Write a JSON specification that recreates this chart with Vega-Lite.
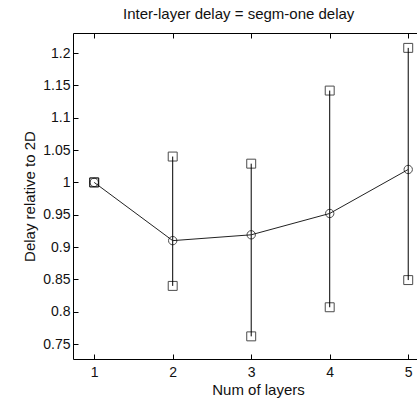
{
  "$schema": "https://vega.github.io/schema/vega-lite/v6.json",
  "autosize": "none",
  "padding": {"left": 73, "top": 33, "right": 0, "bottom": 41},
  "width": 370,
  "height": 326,
  "background": "white",
  "title": {"text": "Inter-layer delay = segm-one delay", "font": "Liberation Sans", "fontSize": 15, "fontWeight": "normal", "color": "#111", "offset": 11, "anchor": "start", "frame": "group", "dx": 50},
  "config": {
    "view": {"stroke": "#000", "strokeWidth": 1},
    "axis": {"grid": false, "domain": false, "tickColor": "#000", "tickSize": -5, "labelOverlap": false, "labelFont": "Liberation Sans", "labelFontSize": 14, "labelColor": "#111", "titleFont": "Liberation Sans", "titleFontSize": 15, "titleFontWeight": "normal", "titleColor": "#111"}
  },
  "resolve": {"axis": {"x": "independent"}},
  "data": {"values": [
    {"layers": 1, "mean": 1.0, "lo": 1.0, "hi": 1.0},
    {"layers": 2, "mean": 0.91, "lo": 0.84, "hi": 1.04},
    {"layers": 3, "mean": 0.919, "lo": 0.762, "hi": 1.029},
    {"layers": 4, "mean": 0.952, "lo": 0.807, "hi": 1.142},
    {"layers": 5, "mean": 1.02, "lo": 0.849, "hi": 1.208}
  ]},
  "layer": [
    {"mark": {"type": "rule", "color": "#000", "strokeWidth": 1},
     "encoding": {
       "x": {"field": "layers", "type": "quantitative", "scale": {"domain": [0.73, 5.443], "nice": false, "zero": false},
         "axis": {"title": "Num of layers", "values": [1, 2, 3, 4, 5], "labelPadding": 11, "titlePadding": 3, "labelOverlap": false}},
       "y": {"field": "lo", "type": "quantitative", "scale": {"domain": [0.727, 1.231], "nice": false, "zero": false},
         "axis": {"title": "Delay relative to 2D", "format": ".2~f", "values": [0.75, 0.8, 0.85, 0.9, 0.95, 1, 1.05, 1.1, 1.15, 1.2], "labelPadding": 8, "titlePadding": 5, "labelOverlap": false}},
       "y2": {"field": "hi"}
     }},
    {"mark": {"type": "line", "color": "#222", "strokeWidth": 1},
     "encoding": {
       "x": {"field": "layers", "type": "quantitative", "axis": {"orient": "top", "title": null, "labels": false, "values": [1, 2, 3, 4, 5]}},
       "y": {"field": "mean", "type": "quantitative",
         "axis": {"title": "Delay relative to 2D", "format": ".2~f", "values": [0.75, 0.8, 0.85, 0.9, 0.95, 1, 1.05, 1.1, 1.15, 1.2], "labelPadding": 8, "titlePadding": 5, "labelOverlap": false}}}},
    {"mark": {"type": "point", "shape": "circle", "filled": false, "color": "#000", "size": 70, "strokeWidth": 1},
     "encoding": {
       "x": {"field": "layers", "type": "quantitative", "axis": null},
       "y": {"field": "mean", "type": "quantitative",
         "axis": {"title": "Delay relative to 2D", "format": ".2~f", "values": [0.75, 0.8, 0.85, 0.9, 0.95, 1, 1.05, 1.1, 1.15, 1.2], "labelPadding": 8, "titlePadding": 5, "labelOverlap": false}}}},
    {"mark": {"type": "point", "shape": "square", "filled": false, "color": "#000", "size": 80, "strokeWidth": 1},
     "encoding": {
       "x": {"field": "layers", "type": "quantitative", "axis": null},
       "y": {"field": "lo", "type": "quantitative",
         "axis": {"title": "Delay relative to 2D", "format": ".2~f", "values": [0.75, 0.8, 0.85, 0.9, 0.95, 1, 1.05, 1.1, 1.15, 1.2], "labelPadding": 8, "titlePadding": 5, "labelOverlap": false}}}},
    {"mark": {"type": "point", "shape": "square", "filled": false, "color": "#000", "size": 80, "strokeWidth": 1},
     "encoding": {
       "x": {"field": "layers", "type": "quantitative", "axis": null},
       "y": {"field": "hi", "type": "quantitative",
         "axis": {"title": "Delay relative to 2D", "format": ".2~f", "values": [0.75, 0.8, 0.85, 0.9, 0.95, 1, 1.05, 1.1, 1.15, 1.2], "labelPadding": 8, "titlePadding": 5, "labelOverlap": false}}}}
  ]
}
